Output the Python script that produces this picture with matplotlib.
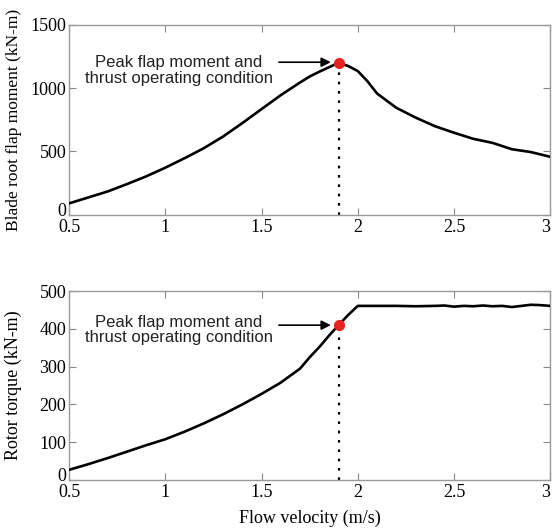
import numpy as np
import matplotlib
matplotlib.use("Agg")
import matplotlib.pyplot as plt
from matplotlib.transforms import offset_copy

# flow velocity (m/s) and blade root flap moment (kN-m)
v_flap = [0.5, 0.6, 0.7, 0.8, 0.9, 1.0, 1.1, 1.2, 1.3, 1.4, 1.5, 1.6, 1.7, 1.75,
          1.8, 1.85, 1.9, 1.95, 2.0, 2.05, 2.1, 2.2, 2.3, 2.4, 2.5, 2.6, 2.7, 2.8,
          2.9, 3.0]
flap = [90, 137, 184, 242, 303, 372, 447, 526, 618, 724, 835, 945, 1045, 1092,
        1130, 1165, 1200, 1175, 1135, 1055, 958, 845, 768, 700, 648, 600, 568, 518,
        495, 458]

# flow velocity (m/s) and rotor torque (kN-m)
v_torque = [0.5, 0.6, 0.7, 0.8, 0.9, 1.0, 1.1, 1.2, 1.3, 1.4, 1.5, 1.6, 1.7, 1.75,
            1.8, 1.85, 1.9, 1.95, 2.0, 2.1, 2.2, 2.3, 2.4, 2.45, 2.5, 2.55, 2.6,
            2.65, 2.7, 2.75, 2.8, 2.85, 2.9, 2.95, 3.0]
torque = [27, 42, 58, 75, 92, 108, 128, 150, 174, 200, 228, 258, 295, 325,
          352, 382, 410, 437, 461, 461, 461, 460, 461, 462, 459, 461, 460,
          462, 460, 461, 458, 461, 464, 463, 461]

peak_v = 1.9
peak_flap = 1200
peak_torque = 410

plt.rcParams['font.family'] = 'Liberation Serif'
plt.rcParams['font.size'] = 13

fig = plt.figure(figsize=(5.53, 5.29), dpi=100)
ax1 = fig.add_axes([0.125, 0.594, 0.870, 0.359])
ax2 = fig.add_axes([0.125, 0.0926, 0.870, 0.357])

note = "Peak flap moment and\nthrust operating condition"

for ax, vv, y, py, ymax, step, lab, lsize, txt_y, arr_y in [
        (ax1, v_flap, flap, peak_flap, 1500, 500, "Blade root flap moment (kN-m)", 12.5, 1140, 1205),
        (ax2, v_torque, torque, peak_torque, 500, 100, "Rotor torque (kN-m)", 13, 397, 410)]:
    ax.plot(vv, y, color='black', lw=1.9, zorder=3)
    ax.plot([peak_v, peak_v], [0, py], color='black', ls=(0, (1.2, 3)), lw=1.6, zorder=2)
    ax.plot(peak_v, py, 'o', color='#e8231f', ms=7, zorder=4)
    ax.annotate("", xy=(peak_v - 0.04, arr_y), xytext=(1.59, arr_y),
                arrowprops=dict(arrowstyle='-|>', color='black', lw=1.2,
                                mutation_scale=14, shrinkA=0, shrinkB=0))
    ax.text(1.07, txt_y, note, family='Liberation Sans', fontsize=12,
            ha='center', va='center', color='#222222', linespacing=1.05)
    ax.set_xlim(0.5, 3)
    ax.set_ylim(0, ymax)
    ax.set_xticks([0.5, 1, 1.5, 2, 2.5, 3])
    ax.set_xticklabels(['0.5', '1', '1.5', '2', '2.5', '3'])
    ax.set_yticks(np.arange(0, ymax + 1, step))
    ax.set_ylabel(lab, fontsize=lsize)
    ax.yaxis.set_label_coords(-0.097, 0.5)
    ax.tick_params(direction='in', top=True, right=True, length=5,
                   color='#888888', labelsize=13)
    ax.tick_params(axis='y', pad=2)
    ax.tick_params(axis='x', pad=3)
    # lift the "0" label a little, it sits just above the corner
    lab0 = ax.get_yticklabels()[0]
    lab0.set_transform(offset_copy(lab0.get_transform(), fig=fig, x=0, y=4, units='points'))
    # keep the "3" inside the figure edge
    lab3 = ax.get_xticklabels()[-1]
    lab3.set_transform(offset_copy(lab3.get_transform(), fig=fig, x=-3, y=0, units='points'))
    for s in ax.spines.values():
        s.set_color('#999999')
        s.set_linewidth(1.0)

ax2.set_xlabel("Flow velocity (m/s)", fontsize=13, labelpad=6)

fig.savefig("out.png", dpi=100)
